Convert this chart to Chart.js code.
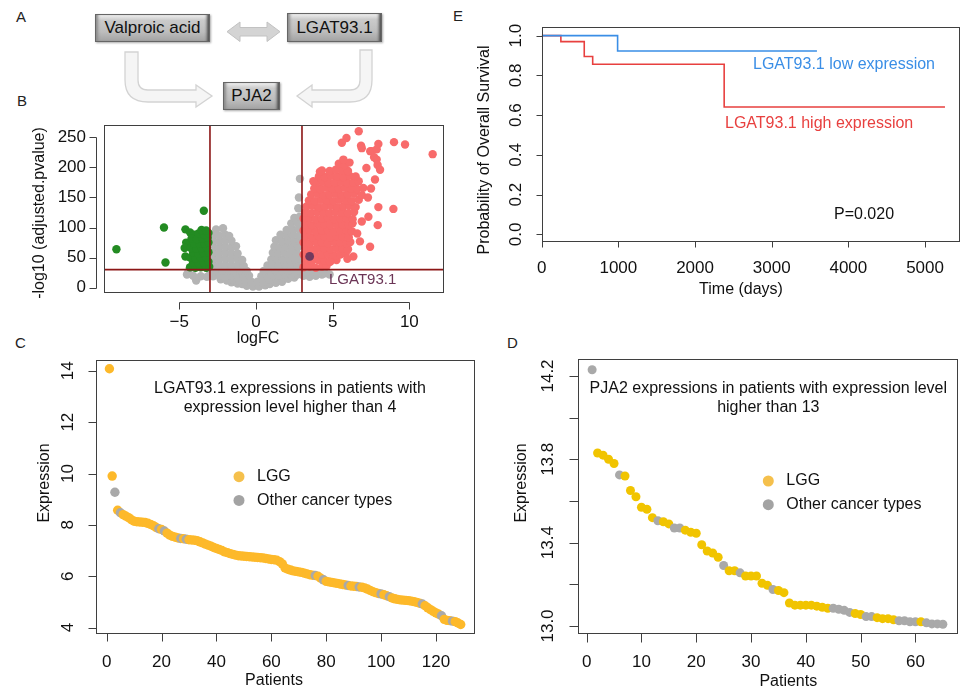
<!DOCTYPE html>
<html>
<head>
<meta charset="utf-8">
<script src="https://cdn.jsdelivr.net/npm/chart.js@4.4.0/dist/chart.umd.min.js"></script>
<style>
  body { margin: 0; background: #fff; }
  #page { position: relative; width: 962px; height: 690px; overflow: hidden; font-family: "Liberation Sans", Arial, sans-serif; }
  canvas { position: absolute; }
  .tag { position: absolute; font-size: 15px; color: #222; line-height: 1; }
  .box {
    position: absolute; box-sizing: border-box; border: 1px solid #666;
    background: linear-gradient(#eeeeee 0%, #cbcbcb 20%, #bdbdbd 65%, #a3a3a3 100%);
    box-shadow: inset -4px 0 3px -2px #4d4d4d, inset 4px 0 3px -2px #8a8a8a, 1px 1px 2px #aaa;
    font-size: 17px; color: #111; display: flex; align-items: center; justify-content: center;
  }
  svg { position: absolute; left: 0; top: 0; }
</style>
</head>
<body>
<div id="page">
  <div class="tag" style="left:16px;top:9px">A</div>
  <div class="tag" style="left:17px;top:93px">B</div>
  <div class="tag" style="left:15px;top:335px">C</div>
  <div class="tag" style="left:507px;top:335px">D</div>
  <div class="tag" style="left:453px;top:8px">E</div>

  <svg width="440" height="120">
    <path d="M227,31.7 L240,22 L240,27.5 L267,27.5 L267,22 L280,31.7 L267,41.5 L267,36 L240,36 L240,41.5 Z"
          fill="#d4d4d4" stroke="#c2c2c2" stroke-width="1"/>
    <path d="M125,52 L138,52 L138,80 Q138,90 148,90 L196,90 L196,85 L212,96 L196,107 L196,102 L148,102 Q125,102 125,80 Z"
          fill="#f5f5f5" stroke="#d3d3d3" stroke-width="1.3"/>
    <path d="M372,50 L360,50 L360,80 Q360,90 350,90 L312,90 L312,85 L297,96 L312,107 L312,102 L350,102 Q372,102 372,80 Z"
          fill="#f5f5f5" stroke="#d3d3d3" stroke-width="1.3"/>
  </svg>
  <div class="box" style="left:95px;top:14px;width:115px;height:28px">Valproic acid</div>
  <div class="box" style="left:287px;top:13px;width:95px;height:29px">LGAT93.1</div>
  <div class="box" style="left:223px;top:82px;width:57px;height:28px">PJA2</div>

  <canvas id="volcano" width="450" height="240" style="left:0;top:110px"></canvas>
  <canvas id="survival" width="512" height="310" style="left:450px;top:0"></canvas>
  <canvas id="lgatExpr" width="480" height="360" style="left:0;top:330px"></canvas>
  <canvas id="pja2Expr" width="482" height="360" style="left:480px;top:330px"></canvas>
</div>

<script>
const FONT = '"Liberation Sans", Arial, sans-serif';

// ---- B: volcano plot, [logFC, -log10 adjusted p] ----
const fcCut = 3;
const padjCut = 30;
const highlightName = 'LGAT93.1';
const highlightPoint = [[3.5, 52]];
const volcanoXTicks = [-5, 0, 5, 10];
const volcanoYTicks = [0, 50, 100, 150, 200, 250];

const nsPoints = [
  [-0.6,3],[-0.2,2],[0.2,2],[0.6,4],
  [-1.6,9],[-1.2,7],[-0.9,6],[0.9,6],[1.3,8],[1.7,10],
  [-3.9,12],[-2.3,14],[-1.9,12],[-1.5,13],[-1.1,12],[-0.7,11],[-0.3,10],[0.1,10],[0.5,11],[0.9,13],[1.3,14],[1.7,15],[2.1,15],[2.5,17],
  [-4.5,22],[-4.1,20],[-3.6,19],[-3.2,18],[-2.8,19],[-2.4,20],[-2.0,19],[-1.6,20],[-1.2,19],[-0.8,18],[-0.45,20],
  [0.35,19],[0.7,20],[1.1,21],[1.5,20],[1.9,22],[2.3,21],[2.7,22],[3.1,20],[3.5,18],[3.9,20],[4.3,22],
  [-4.4,28],[-3.0,28],[-2.6,29],[-2.2,28],[-1.8,29],[-1.4,28],[-1.0,29],[-0.6,28],
  [0.5,28],[0.9,29],[1.3,28],[1.7,29],[2.1,28],[2.5,29],[2.9,28],[3.3,26],[3.7,27],[4.1,26],[4.5,24],[4.8,22],
  [-2.8,38],[-2.4,37],[-2.0,38],[-1.6,37],[-1.2,38],[-0.8,36],[0.75,37],[1.1,38],[1.5,37],[1.9,38],[2.3,37],[2.7,38],
  [-2.8,48],[-2.4,47],[-2.0,48],[-1.6,47],[-1.2,49],[-0.9,46],[1.0,47],[1.35,48],[1.75,47],[2.15,48],[2.55,47],[2.9,48],
  [-2.8,58],[-2.4,57],[-2.0,58],[-1.6,57],[-1.2,57],[1.1,58],[1.45,57],[1.85,58],[2.25,57],[2.65,58],
  [-2.8,68],[-2.4,67],[-2.0,68],[-1.6,67],[-1.3,69],[1.2,68],[1.55,67],[1.95,68],[2.35,67],[2.75,68],
  [-2.8,78],[-2.4,77],[-2.0,78],[-1.6,78],[1.3,79],[1.7,77],[2.1,78],[2.5,77],[2.85,78],
  [-2.8,88],[-2.4,87],[-2.0,88],[-1.75,86],[1.6,88],[2.0,87],[2.4,88],[2.8,87],
  [-2.6,97],[-2.15,99],[2.0,96],[2.4,97],[2.8,98],
  [2.3,107],[2.7,108],[2.5,116],[2.85,118],[2.76,132],[2.8,150],[2.87,181]
];

const downPoints = [
  [-9.1,64],[-6.0,100],[-5.9,42],[-3.4,128],[-4.6,97],[-4.55,75],[-4.65,66],[-4.6,52],[-4.3,92],[-4.0,88],
  [-4.3,34],[-3.95,33],[-3.6,34],[-3.25,33],[-3.05,35],
  [-4.1,42],[-3.75,41],[-3.4,42],[-3.1,43],
  [-4.3,50],[-3.95,49],[-3.6,50],[-3.25,51],
  [-4.1,58],[-3.75,57],[-3.4,58],[-3.1,59],
  [-4.25,66],[-3.9,65],[-3.55,66],[-3.2,67],
  [-4.05,74],[-3.7,73],[-3.35,74],[-3.1,75],
  [-4.2,82],[-3.85,81],[-3.5,82],[-3.15,83],
  [-3.75,90],[-3.4,89],[-3.1,91],
  [-3.55,96],[-3.25,95]
];

const upPoints = [
  [3.1,34],[3.5,35],[3.9,33],[4.3,35],[4.6,36],
  [3.25,45],[3.65,44],[4.05,46],[4.45,45],[4.85,44],[5.25,46],
  [3.1,55],[3.5,56],[3.9,54],[4.3,55],[4.7,56],[5.1,54],[5.5,55],[5.85,57],
  [3.25,65],[3.65,64],[4.05,66],[4.45,65],[4.85,64],[5.25,66],[5.65,65],[6.0,64],
  [3.1,75],[3.5,74],[3.9,76],[4.3,75],[4.7,74],[5.1,76],[5.5,75],[5.9,74],[6.15,76],
  [3.25,85],[3.65,84],[4.05,86],[4.45,85],[4.85,84],[5.25,86],[5.65,85],[6.05,84],
  [3.1,95],[3.5,96],[3.9,94],[4.3,95],[4.7,96],[5.1,94],[5.5,95],[5.9,96],[6.25,94],
  [3.25,105],[3.65,104],[4.05,106],[4.45,105],[4.85,104],[5.25,106],[5.65,105],[6.05,104],[6.3,107],
  [3.1,115],[3.5,116],[3.9,114],[4.3,115],[4.7,116],[5.1,114],[5.5,115],[5.9,116],[6.3,114],
  [3.2,125],[3.6,124],[4.0,126],[4.4,125],[4.8,124],[5.2,126],[5.6,125],[6.0,124],[6.4,126],
  [3.3,135],[3.7,136],[4.1,134],[4.5,135],[4.9,136],[5.3,134],[5.7,135],[6.1,136],[6.5,134],
  [3.45,145],[3.85,144],[4.25,146],[4.65,145],[5.05,144],[5.45,146],[5.85,145],[6.25,144],[6.7,146],
  [3.6,155],[4.0,156],[4.4,154],[4.8,155],[5.2,156],[5.6,154],[6.0,155],[6.4,156],[6.9,154],
  [3.8,165],[4.2,164],[4.6,166],[5.0,165],[5.4,164],[5.8,166],[6.2,165],[6.6,164],[7.0,166],
  [3.95,175],[4.35,176],[4.75,174],[5.15,175],[5.55,176],[5.95,174],[6.35,175],[6.7,177],
  [4.1,185],[4.5,184],[4.9,186],[5.3,185],[5.7,184],[6.1,186],[6.5,185],
  [4.3,195],[4.8,194],[5.2,196],[5.6,195],[6.0,194],
  [5.4,206],[5.8,204],[6.1,208],
  [6.7,260],[5.6,241],[5.9,249],[6.85,236],[6.9,232],[7.45,227],[7.55,227],[7.98,239],[7.87,230],
  [9.0,242],[9.72,238],[11.52,222],[7.7,217],[7.87,213],[5.7,213],[7.93,204],[8.09,196],[4.17,193],
  [3.74,177],[7.2,199],[7.76,180],[7.5,165],[7.3,150],[8.96,131],[7.98,134],[7.94,104],[7.33,118],
  [7.44,68],[6.78,77],[6.35,52],[5.96,48],[4.83,43],[6.6,90],[6.9,110]
];

// ---- E: Kaplan-Meier curves ----
const kmLowTime = [0, 990, 3590];
const kmLowSurv = [1, 0.923, 0.923];
const kmHighTime = [0, 250, 555, 665, 2380, 5260];
const kmHighSurv = [1, 0.970, 0.895, 0.856, 0.641, 0.641];
const kmXTicks = [0, 1000, 2000, 3000, 4000, 5000];
const kmYTicks = [0, 0.2, 0.4, 0.6, 0.8, 1.0];
const kmPValue = 'P=0.020';

// ---- C: LGAT93.1 expression per patient (sorted) ----
const lgatExpr = [
  14.08, 9.90, 9.27, 8.57, 8.47, 8.40, 8.34, 8.28, 8.20, 8.14,
  8.12, 8.11, 8.10, 8.09, 8.06, 8.02, 7.97, 7.90, 7.85, 7.82,
  7.76, 7.68, 7.60, 7.55, 7.52, 7.49, 7.47, 7.46, 7.44, 7.42,
  7.41, 7.40, 7.38, 7.34, 7.30, 7.25, 7.21, 7.17, 7.12, 7.08,
  7.04, 7.00, 6.95, 6.92, 6.88, 6.85, 6.82, 6.80, 6.79, 6.78,
  6.77, 6.76, 6.75, 6.74, 6.73, 6.72, 6.71, 6.69, 6.67, 6.65,
  6.64, 6.62, 6.57, 6.48, 6.32, 6.27, 6.24, 6.21, 6.19, 6.17,
  6.15, 6.12, 6.09, 6.06, 6.04, 6.03, 6.00, 5.92, 5.86, 5.80,
  5.78, 5.76, 5.74, 5.72, 5.70, 5.68, 5.66, 5.64, 5.62, 5.61,
  5.60, 5.58, 5.57, 5.54, 5.50, 5.45, 5.40, 5.36, 5.33, 5.31,
  5.28, 5.24, 5.20, 5.15, 5.12, 5.10, 5.08, 5.07, 5.06, 5.05,
  5.03, 5.01, 4.98, 4.95, 4.92, 4.85, 4.77, 4.70, 4.63, 4.57,
  4.52, 4.46, 4.32, 4.28, 4.27, 4.25, 4.23, 4.18, 4.12
];
const lgatOtherPatients = [3, 5, 19, 21, 27, 29, 76, 79, 88, 92, 100, 103, 115, 122, 126];
const lgatXTicks = [0, 20, 40, 60, 80, 100, 120];
const lgatYTicks = [4, 6, 8, 10, 12, 14];

// ---- D: PJA2 expression per patient (sorted) ----
const pja2Expr = [
  14.23, 13.83, 13.82, 13.80, 13.78, 13.725, 13.72, 13.65, 13.62, 13.57,
  13.56, 13.52, 13.505, 13.50, 13.49, 13.47, 13.47, 13.46, 13.45, 13.445,
  13.39, 13.36, 13.35, 13.33, 13.29, 13.265, 13.265, 13.255, 13.24, 13.24,
  13.24, 13.205, 13.195, 13.175, 13.17, 13.16, 13.11, 13.10, 13.10, 13.10,
  13.10, 13.095, 13.09, 13.085, 13.085, 13.08, 13.075, 13.065, 13.06, 13.055,
  13.045, 13.045, 13.04, 13.035, 13.035, 13.03, 13.025, 13.025, 13.02, 13.02,
  13.02, 13.015, 13.01, 13.01, 13.008
];
const pja2OtherPatients = [1, 6, 13, 16, 17, 25, 28, 34, 45, 46, 47, 48, 51, 52, 57, 58, 59, 60, 62, 63, 64, 65];
const pja2XTicks = [0, 10, 20, 30, 40, 50, 60];
const pja2YTicks = [13.0, 13.2, 13.4, 13.6, 13.8, 14.0, 14.2];
const pja2YLabels = ['13.0', '', '13.4', '', '13.8', '', '14.2'];

const legendNames = ['LGG', 'Other cancer types'];

// R-like box, axes, tick labels and titles drawn with the chart's own scales
function rAxes(o) {
  return {
    id: 'rAxes',
    afterDatasetsDraw(chart) {
      const ctx = chart.ctx, a = chart.chartArea;
      const xs = chart.scales.x, ys = chart.scales.y;
      ctx.save();
      if (o.overlay) o.overlay(ctx, a, xs, ys);

      ctx.strokeStyle = '#3f3f3f';
      ctx.lineWidth = 1;
      const L = Math.round(a.left) + 0.5, T = Math.round(a.top) + 0.5;
      const R = Math.round(a.right) - 0.5, B = Math.round(a.bottom) - 0.5;
      ctx.strokeRect(L, T, R - L, B - T);

      ctx.beginPath();
      const xa = Math.round(a.bottom + o.xGap) - 0.5;
      const xp = o.xTicks.map(v => Math.round(xs.getPixelForValue(v)) + 0.5);
      if (o.xGap) { ctx.moveTo(xp[0], xa); ctx.lineTo(xp[xp.length - 1], xa); }
      xp.forEach(p => { ctx.moveTo(p, xa); ctx.lineTo(p, xa + o.tick); });
      const ya = Math.round(a.left - o.yGap) + 0.5;
      const yp = o.yTicks.map(v => Math.round(ys.getPixelForValue(v)) + 0.5);
      if (o.yGap) { ctx.moveTo(ya, yp[0]); ctx.lineTo(ya, yp[yp.length - 1]); }
      yp.forEach(p => { ctx.moveTo(ya, p); ctx.lineTo(ya - o.tick, p); });
      ctx.stroke();

      ctx.fillStyle = '#111';
      ctx.font = '17px ' + FONT;
      ctx.textAlign = 'center';
      ctx.textBaseline = 'middle';
      o.xTicks.forEach((v, i) => ctx.fillText(o.xLabels[i], xs.getPixelForValue(v), a.bottom + o.xLab));
      o.yTicks.forEach((v, i) => {
        const p = ys.getPixelForValue(v);
        if (o.yRotate) {
          ctx.save();
          ctx.translate(a.left - o.yLab, p);
          ctx.rotate(-Math.PI / 2);
          ctx.fillText(o.yLabels[i], 0, 0);
          ctx.restore();
        } else {
          ctx.textAlign = 'right';
          ctx.fillText(o.yLabels[i], a.left - o.yLab, p);
          ctx.textAlign = 'center';
        }
      });

      ctx.font = '16px ' + FONT;
      ctx.fillText(o.xTitle[0], o.xTitle[1], o.xTitle[2]);
      ctx.save();
      ctx.translate(o.yTitle[1], o.yTitle[2]);
      ctx.rotate(-Math.PI / 2);
      ctx.fillText(o.yTitle[0], 0, 0);
      ctx.restore();
      ctx.restore();
    }
  };
}

function baseOptions(xMin, xMax, yMin, yMax, pad) {
  return {
    responsive: false,
    animation: false,
    devicePixelRatio: 1,
    events: [],
    layout: { padding: pad },
    plugins: { legend: { display: false }, tooltip: { enabled: false } },
    scales: {
      x: { type: 'linear', min: xMin, max: xMax, display: false },
      y: { type: 'linear', min: yMin, max: yMax, display: false }
    }
  };
}

const toXY = arr => arr.map(p => ({ x: p[0], y: p[1] }));
const dot = (color, r) => ({ backgroundColor: color, borderWidth: 0, pointRadius: r, pointHoverRadius: r });

// B: volcano
new Chart(document.getElementById('volcano'), {
  type: 'scatter',
  data: {
    datasets: [
      { data: toXY(highlightPoint), ...dot('#713a5e', 4.4) },
      { data: toXY(upPoints), ...dot('#f86b6b', 4.2) },
      { data: toXY(downPoints), ...dot('#238b22', 4.2) },
      { data: toXY(nsPoints), ...dot('#b4b4b4', 4.2) }
    ]
  },
  options: baseOptions(-9.91, 12.26, -8.8, 270.5, { left: 104, top: 15, right: 6, bottom: 57 }),
  plugins: [rAxes({
    xTicks: volcanoXTicks, xLabels: volcanoXTicks.map(v => v < 0 ? '\u2212' + Math.abs(v) : String(v)),
    yTicks: volcanoYTicks, yLabels: volcanoYTicks.map(String),
    xGap: 10, yGap: 8.5, tick: 7, xLab: 29, yLab: 18, yRotate: false,
    xTitle: ['logFC', 258, 229], yTitle: ['-log10 (adjusted.pvalue)', 40, 103],
    overlay(ctx, a, xs, ys) {
      ctx.strokeStyle = '#8c1616';
      ctx.lineWidth = 1.6;
      ctx.beginPath();
      [-fcCut, fcCut].forEach(v => {
        const p = xs.getPixelForValue(v);
        ctx.moveTo(p, a.top); ctx.lineTo(p, a.bottom);
      });
      const h = ys.getPixelForValue(padjCut);
      ctx.moveTo(a.left, h); ctx.lineTo(a.right, h);
      ctx.stroke();
      ctx.fillStyle = '#6b3556';
      ctx.font = '15px ' + FONT;
      ctx.textAlign = 'left';
      ctx.textBaseline = 'middle';
      ctx.fillText(highlightName, xs.getPixelForValue(4.76), ys.getPixelForValue(12.8));
    }
  })]
});

// E: survival curves
new Chart(document.getElementById('survival'), {
  type: 'line',
  data: {
    datasets: [
      { data: kmLowTime.map((t, i) => ({ x: t, y: kmLowSurv[i] })), borderColor: '#3a8ee6', borderWidth: 1.6, stepped: true, pointRadius: 0, fill: false },
      { data: kmHighTime.map((t, i) => ({ x: t, y: kmHighSurv[i] })), borderColor: '#e8403f', borderWidth: 1.6, stepped: true, pointRadius: 0, fill: false }
    ]
  },
  options: baseOptions(0, 5456, -0.04, 1.042, { left: 91.7, top: 27.3, right: 2, bottom: 67.7 }),
  plugins: [rAxes({
    xTicks: kmXTicks, xLabels: kmXTicks.map(String),
    yTicks: kmYTicks, yLabels: kmYTicks.map(v => v.toFixed(1)),
    xGap: 0, yGap: 0, tick: 6, xLab: 25.7, yLab: 25.7, yRotate: true,
    xTitle: ['Time (days)', 291, 290], yTitle: ['Probability of Overall Survival', 35, 150],
    overlay(ctx) {
      ctx.font = '16px ' + FONT;
      ctx.textAlign = 'left';
      ctx.textBaseline = 'middle';
      ctx.fillStyle = '#3a8ee6';
      ctx.fillText('LGAT93.1 low expression', 303, 65);
      ctx.fillStyle = '#e8403f';
      ctx.fillText('LGAT93.1 high expression', 275, 124);
      ctx.fillStyle = '#111';
      ctx.fillText(kmPValue, 384, 215);
    }
  })]
});

// C/D: expression dot plots with an in-plot title and legend
function legendOverlay(titleLines, titleX, titleY, legX, legY, legColors) {
  return function (ctx) {
    ctx.fillStyle = '#111';
    ctx.font = '16px ' + FONT;
    ctx.textAlign = 'center';
    ctx.textBaseline = 'middle';
    titleLines.forEach((t, i) => ctx.fillText(t, titleX, titleY + i * 19));
    ctx.textAlign = 'left';
    legendNames.forEach((name, i) => {
      const y = legY + i * 23.7;
      ctx.fillStyle = legColors[i];
      ctx.beginPath();
      ctx.arc(legX, y, 5.5, 0, Math.PI * 2);
      ctx.fill();
      ctx.fillStyle = '#111';
      ctx.fillText(name, legX + 18, y);
    });
  };
}

function exprDataset(values, others, lggColor, r) {
  return {
    data: values.map((v, i) => ({ x: i + 1, y: v })),
    backgroundColor: values.map((v, i) => others.includes(i + 1) ? '#a9a9a9' : lggColor),
    borderWidth: 0, pointRadius: r, pointHoverRadius: r
  };
}

new Chart(document.getElementById('lgatExpr'), {
  type: 'scatter',
  data: { datasets: [exprDataset(lgatExpr, lgatOtherPatients, '#fdb92a', 4.7)] },
  options: baseOptions(-4.0, 134.2, 3.75, 14.42, { left: 95.7, top: 30, right: 5, bottom: 56 }),
  plugins: [rAxes({
    xTicks: lgatXTicks, xLabels: lgatXTicks.map(String),
    yTicks: lgatYTicks, yLabels: lgatYTicks.map(String),
    xGap: 0, yGap: 0, tick: 8, xLab: 28.7, yLab: 27.4, yRotate: true,
    xTitle: ['Patients', 274, 350.7], yTitle: ['Expression', 45, 153],
    overlay: legendOverlay(['LGAT93.1 expressions in patients with', 'expression level higher than 4'],
      290, 59, 239, 146.7, ['#f5c04c', '#a3a3a3'])
  })]
});

new Chart(document.getElementById('pja2Expr'), {
  type: 'scatter',
  data: { datasets: [exprDataset(pja2Expr, pja2OtherPatients, '#f1c400', 4.5)] },
  options: baseOptions(-1.63, 67.67, 12.96, 14.28, { left: 97.7, top: 29.3, right: 2, bottom: 55.7 }),
  plugins: [rAxes({
    xTicks: pja2XTicks, xLabels: pja2XTicks.map(String),
    yTicks: pja2YTicks, yLabels: pja2YLabels,
    xGap: 0, yGap: 0, tick: 9, xLab: 28.4, yLab: 29.4, yRotate: true,
    xTitle: ['Patients', 308.3, 351.7], yTitle: ['Expression', 41.7, 153],
    overlay: legendOverlay(['PJA2 expressions in patients with expression level', 'higher than 13'],
      288.3, 59, 288.3, 151, ['#f5c04c', '#a3a3a3'])
  })]
});
</script>
</body>
</html>
